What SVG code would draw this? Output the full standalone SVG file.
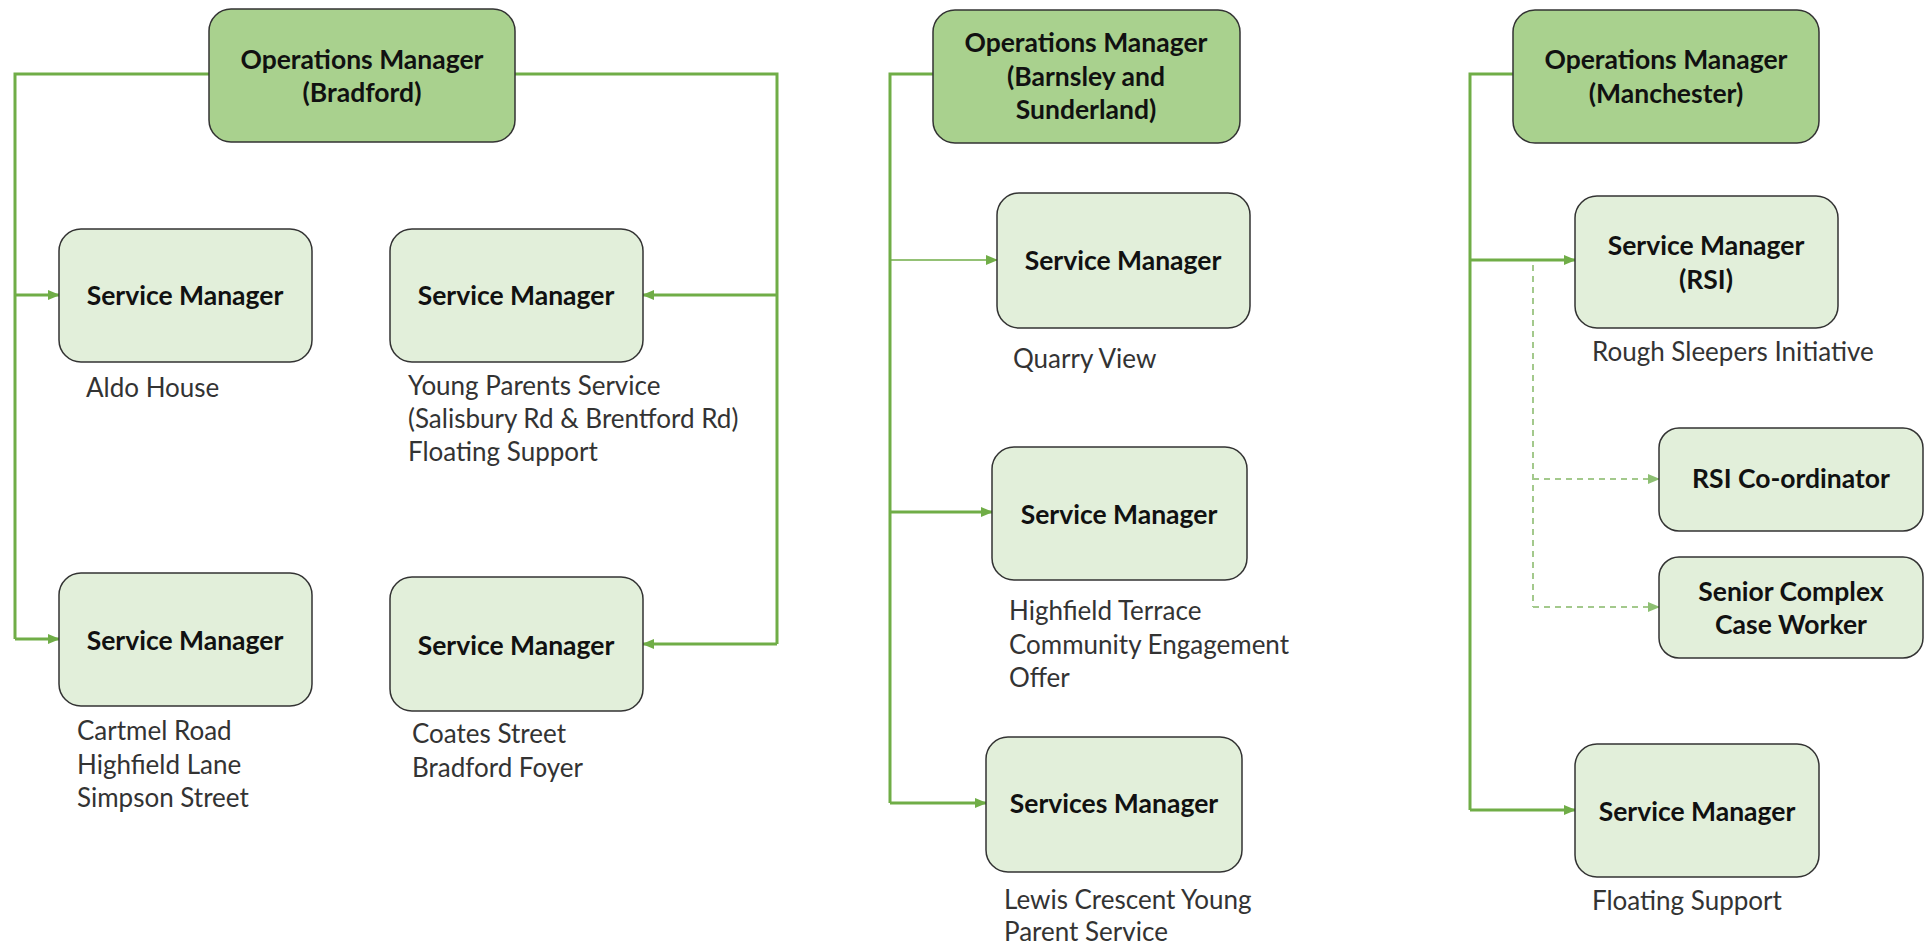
<svg xmlns="http://www.w3.org/2000/svg" width="1925" height="945" viewBox="0 0 1925 945">
<defs>
<style>
.om{fill:#A9D18E;stroke:#333;stroke-width:1.5}
.sm{fill:#E2EFDA;stroke:#333;stroke-width:1.5}
.t{font-family:Lato,"Liberation Sans",sans-serif;font-weight:bold;font-size:26.5px;fill:#111;text-anchor:middle}
.l{font-family:Lato,"Liberation Sans",sans-serif;font-size:26px;fill:#333}
.c{fill:none;stroke:#70AD47;stroke-width:3}
.thin{fill:none;stroke:#70AD47;stroke-width:1.5}
.d{fill:none;stroke:#A3C98C;stroke-width:2;stroke-dasharray:6,5}
</style>
<marker id="a" markerUnits="userSpaceOnUse" markerWidth="12" markerHeight="12" refX="11" refY="6" orient="auto"><path d="M0,1 L12,6 L0,11 Z" fill="#70AD47"/></marker>
<marker id="ad" markerUnits="userSpaceOnUse" markerWidth="12" markerHeight="12" refX="11" refY="6" orient="auto"><path d="M0,1 L12,6 L0,11 Z" fill="#8DBF72"/></marker>
</defs>
<rect width="1925" height="945" fill="#fff"/>
<g id="connectors">
<polyline class="c" points="209,74 15,74 15,639"/>
<line class="c" x1="15" y1="295" x2="59" y2="295" marker-end="url(#a)"/>
<line class="c" x1="15" y1="639" x2="59" y2="639" marker-end="url(#a)"/>
<polyline class="c" points="515,74 777,74 777,644"/>
<line class="c" x1="777" y1="295" x2="643" y2="295" marker-end="url(#a)"/>
<line class="c" x1="777" y1="644" x2="643" y2="644" marker-end="url(#a)"/>
<polyline class="c" points="933,74 890,74 890,803"/>
<line class="thin" x1="890" y1="260" x2="997" y2="260" marker-end="url(#a)"/>
<line class="c" x1="890" y1="512" x2="992" y2="512" marker-end="url(#a)"/>
<line class="c" x1="890" y1="803" x2="986" y2="803" marker-end="url(#a)"/>
<polyline class="c" points="1513,74 1470,74 1470,810"/>
<line class="c" x1="1470" y1="260" x2="1575" y2="260" marker-end="url(#a)"/>
<line class="c" x1="1470" y1="810" x2="1575" y2="810" marker-end="url(#a)"/>
<polyline class="d" points="1533,265 1533,607"/>
<line class="d" x1="1533" y1="479" x2="1659" y2="479" marker-end="url(#ad)"/>
<line class="d" x1="1533" y1="607" x2="1659" y2="607" marker-end="url(#ad)"/>
</g>
<g id="om-bradford"><rect class="om" x="209" y="9" width="306" height="133" rx="22"/><text class="t" x="362" y="69">Operations Manager</text><text class="t" x="362" y="102">(Bradford)</text></g>
<g id="sm-aldo"><rect class="sm" x="59" y="229" width="253" height="133" rx="22"/><text class="t" x="185" y="305">Service Manager</text></g>
<text class="l" x="86" y="397">Aldo House</text>
<g id="sm-young"><rect class="sm" x="390" y="229" width="253" height="133" rx="22"/><text class="t" x="516" y="305">Service Manager</text></g>
<text class="l" x="408" y="395">Young Parents Service</text>
<text class="l" x="408" y="428">(Salisbury Rd &amp; Brentford Rd)</text>
<text class="l" x="408" y="461">Floating Support</text>
<g id="sm-cartmel"><rect class="sm" x="59" y="573" width="253" height="133" rx="22"/><text class="t" x="185" y="650">Service Manager</text></g>
<text class="l" x="77" y="740">Cartmel Road</text>
<text class="l" x="77" y="774">Highfield Lane</text>
<text class="l" x="77" y="807">Simpson Street</text>
<g id="sm-coates"><rect class="sm" x="390" y="577" width="253" height="134" rx="22"/><text class="t" x="516" y="655">Service Manager</text></g>
<text class="l" x="412" y="743">Coates Street</text>
<text class="l" x="412" y="777">Bradford Foyer</text>
<g id="om-barnsley"><rect class="om" x="933" y="10" width="307" height="133" rx="22"/><text class="t" x="1086" y="52">Operations Manager</text><text class="t" x="1086" y="86">(Barnsley and</text><text class="t" x="1086" y="119">Sunderland)</text></g>
<g id="sm-quarry"><rect class="sm" x="997" y="193" width="253" height="135" rx="22"/><text class="t" x="1123" y="270">Service Manager</text></g>
<text class="l" x="1013" y="368">Quarry View</text>
<g id="sm-highfield"><rect class="sm" x="992" y="447" width="255" height="133" rx="22"/><text class="t" x="1119" y="524">Service Manager</text></g>
<text class="l" x="1009" y="620">Highfield Terrace</text>
<text class="l" x="1009" y="654">Community Engagement</text>
<text class="l" x="1009" y="687">Offer</text>
<g id="sm-lewis"><rect class="sm" x="986" y="737" width="256" height="135" rx="22"/><text class="t" x="1114" y="813">Services Manager</text></g>
<text class="l" x="1004" y="909">Lewis Crescent Young</text>
<text class="l" x="1004" y="941">Parent Service</text>
<g id="om-manchester"><rect class="om" x="1513" y="10" width="306" height="133" rx="22"/><text class="t" x="1666" y="69">Operations Manager</text><text class="t" x="1666" y="103">(Manchester)</text></g>
<g id="sm-rsi"><rect class="sm" x="1575" y="196" width="263" height="132" rx="22"/><text class="t" x="1706" y="255">Service Manager</text><text class="t" x="1706" y="289">(RSI)</text></g>
<text class="l" x="1592" y="361">Rough Sleepers Initiative</text>
<g id="rsi-coord"><rect class="sm" x="1659" y="428" width="264" height="103" rx="20"/><text class="t" x="1791" y="488">RSI Co-ordinator</text></g>
<g id="senior-cw"><rect class="sm" x="1659" y="557" width="264" height="101" rx="20"/><text class="t" x="1791" y="601">Senior Complex</text><text class="t" x="1791" y="634">Case Worker</text></g>
<g id="sm-floating"><rect class="sm" x="1575" y="744" width="244" height="133" rx="22"/><text class="t" x="1697" y="821">Service Manager</text></g>
<text class="l" x="1592" y="910">Floating Support</text>
</svg>
